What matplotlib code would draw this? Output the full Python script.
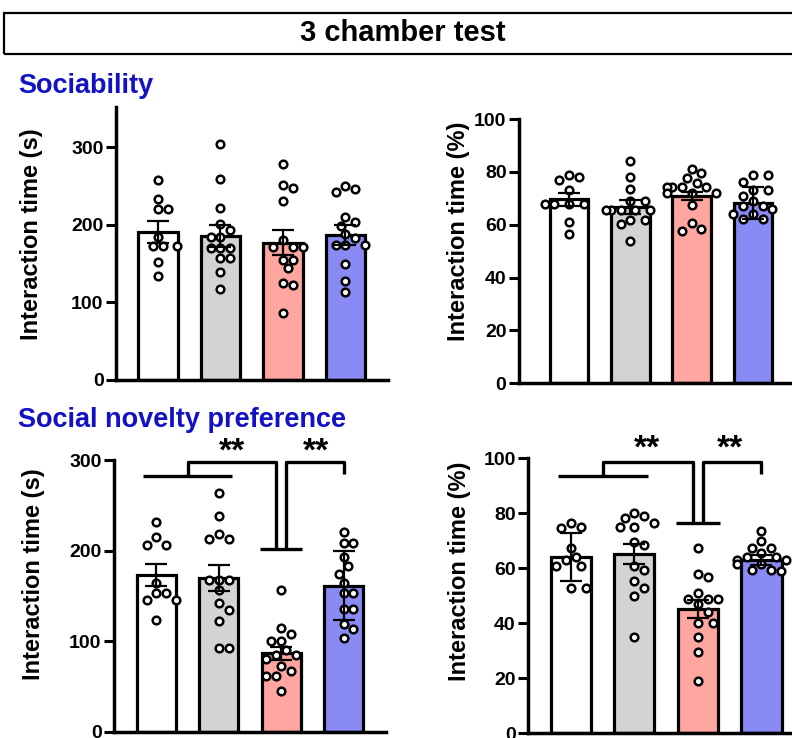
import numpy as np
import matplotlib
matplotlib.use("Agg")
import matplotlib.pyplot as plt
from matplotlib.patches import Rectangle

plt.rcParams['font.family'] = ['Liberation Sans', 'DejaVu Sans']
plt.rcParams['font.weight'] = 'bold'

# --- dados ---
colors = ['white', '#d3d3d3', '#ffa6a0', '#8a8af5']

# Sociability, tempo (s)
soc_time = [
    [258, 234, 220, 220, 185, 173, 173, 173, 152, 134],
    [304, 259, 222, 201, 194, 185, 185, 170, 170, 170, 157, 157, 139, 117],
    [279, 252, 247, 231, 180, 171, 171, 171, 155, 155, 144, 125, 122, 86],
    [250, 246, 243, 210, 204, 199, 188, 183, 174, 174, 174, 149, 128, 114],
]
soc_time_mean = [191, 186, 177, 187]
soc_time_err = [14, 14, 16, 13]

# Sociability, tempo (%)
soc_pct = [
    [79, 78.2, 76.9, 73.1, 68, 68, 68, 68, 61, 56.5],
    [84.2, 78.2, 73.4, 69.1, 69.1, 65.6, 65.6, 65.6, 65.6, 65.6, 61.6, 61.6, 60.2, 53.8],
    [81.2, 79.4, 77.7, 75.7, 74.1, 74.1, 74.1, 74.1, 71.9, 71.9, 71.9, 67.3, 60.5, 58.5, 57.5],
    [79, 79, 76, 73, 73, 71, 69, 67, 67, 66, 64, 64, 62, 62],
]
soc_pct_mean = [69.6, 66.8, 70.9, 68.3]
soc_pct_err = [2.5, 2.6, 1.6, 6.1]

# Social novelty, tempo (s)
nov_time = [
    [231, 215, 206, 206, 164, 153, 153, 145, 145, 123],
    [264, 238, 218, 213, 213, 167, 167, 167, 156, 142, 134, 122, 92, 92],
    [156, 115, 108, 100, 100, 90, 85, 85, 80, 72, 67, 62, 62, 45],
    [221, 208, 208, 193, 183, 174, 164, 153, 153, 135, 135, 119, 113, 104],
]
nov_time_mean = [173, 170, 86.5, 161]
nov_time_err = [12, 14.5, 7, 38]

# Social novelty, tempo (%)
nov_pct = [
    [76.6, 74.9, 74.5, 67.3, 64.2, 63, 61, 61, 53, 53],
    [80, 79.2, 78.4, 76.6, 74.9, 74.9, 69.5, 68.5, 61, 59.4, 55.5, 52.7, 50, 35.2],
    [67.3, 58, 57, 51, 49, 49, 49, 47, 44, 40, 40, 35, 29.5, 19.2],
    [73.6, 70, 67.5, 67.5, 65.5, 64, 64, 63, 63, 61.6, 61.6, 59.4, 59.4, 59],
]
nov_pct_mean = [64.2, 65.2, 45.3, 63]
nov_pct_err = [8.8, 3.6, 3.2, 1.8]

# niveis dos colchetes: [grupo 1+2, topo, grupo 3, grupo 4]
bracket_time = [282, 298, 202, 284]
bracket_pct = [93.6, 98.8, 76.6, 94.3]
stars = '**'

W, H = 792, 738
fig = plt.figure(figsize=(W / 100, H / 100), dpi=100)


def px_rect(l, t, r, b):
    return [l / W, 1 - b / H, (r - l) / W, (b - t) / H]


def swarm(ax, x0, vals, d=9.8):
    # beeswarm simples em coordenadas de pixel
    placed = []
    xs, ys = [], []
    for v in sorted(vals, reverse=True):
        px, py = ax.transData.transform((x0, v))
        for k in [0, 1, -1, 2, -2, 3, -3, 4, -4, 5, -5]:
            cx = px + k * d * 0.5
            if all((cx - a) ** 2 + (py - b) ** 2 >= d * d for a, b in placed):
                break
        placed.append((cx, py))
        xd, _ = ax.transData.inverted().transform((cx, py))
        xs.append(xd)
        ys.append(v)
    return xs, ys


def painel(rect, xlim, ylim, yticks, pts, means, errs, ylabel, lab_pos):
    ax = fig.add_axes(px_rect(*rect))
    ax.set_xlim(*xlim)
    ax.set_ylim(*ylim)
    x = np.arange(4)
    ax.bar(x, means, width=0.63, color=colors, edgecolor='black', linewidth=2.3, zorder=2)
    for i in range(4):
        xs, ys = swarm(ax, x[i], pts[i])
        ax.plot(xs, ys, 'o', ms=5.5, mfc='white', mec='black', mew=1.8, zorder=3, clip_on=False)
    ax.errorbar(x, means, yerr=errs, fmt='none', ecolor='black', elinewidth=1.6,
                capsize=8, capthick=1.6, zorder=4)
    for s in ['top', 'right']:
        ax.spines[s].set_visible(False)
    for s in ['left', 'bottom']:
        ax.spines[s].set_linewidth(2.5)
    ax.set_xticks([])
    ax.set_yticks(yticks)
    ax.tick_params(axis='y', length=7, width=2.2, pad=2, labelsize=14)
    ax.text(lab_pos[0], lab_pos[1], ylabel, rotation=90, transform=ax.transAxes,
            ha='center', va='center', fontsize=17, fontweight='bold')
    return ax


def colchetes(ax, lv, star_y, star_x):
    kw = dict(color='black', lw=2.4, clip_on=False, zorder=5, solid_capstyle='butt')
    ax.plot([-0.21, 1.21], [lv[0], lv[0]], **kw)
    ax.plot([0.5, 0.5, 1.92, 1.92], [lv[0], lv[1], lv[1], lv[2]], **kw)
    ax.plot([1.66, 2.34], [lv[2], lv[2]], **kw)
    ax.plot([2.08, 2.08, 3.0, 3.0], [lv[2], lv[1], lv[1], lv[3]], **kw)
    for sx in star_x:
        ax.text(sx, star_y, stars, ha='center', va='center', fontsize=24, fontweight='bold')


ax1 = painel((116, 107, 388, 380), (-0.67, 3.68), (0, 352), [0, 100, 200, 300],
             soc_time, soc_time_mean, soc_time_err, 'Interaction time (s)', (-0.31, 0.535))
ax2 = painel((519, 119, 792, 383.3), (-0.82, 3.64), (0, 100), [0, 20, 40, 60, 80, 100],
             soc_pct, soc_pct_mean, soc_pct_err, 'Interaction time (%)', (-0.222, 0.574))
ax3 = painel((114, 460, 386, 731.7), (-0.68, 3.68), (0, 300), [0, 100, 200, 300],
             nov_time, nov_time_mean, nov_time_err, 'Interaction time (s)', (-0.297, 0.579))
ax4 = painel((528.3, 458.3, 792, 733.3), (-0.67, 3.48), (0, 100), [0, 20, 40, 60, 80, 100],
             nov_pct, nov_pct_mean, nov_pct_err, 'Interaction time (%)', (-0.262, 0.588))

colchetes(ax3, bracket_time, 309, [1.21, 2.56])
colchetes(ax4, bracket_pct, 103.2, [1.2, 2.5])

# titulo com caixa
fig.add_artist(Rectangle((4 / W, 1 - 54 / H), 1.0, 41 / H, transform=fig.transFigure,
                         fill=False, lw=1.6, edgecolor='black', clip_on=False))
fig.text(403 / W, 1 - 33 / H, '3 chamber test', ha='center', va='center',
         fontsize=21, fontweight='bold')
fig.text(18 / W, 1 - 93 / H, 'Sociability', color='#1212c4', fontsize=19.5,
         fontweight='bold', va='baseline')
fig.text(18 / W, 1 - 427 / H, 'Social novelty preference', color='#1212c4', fontsize=19.5,
         fontweight='bold', va='baseline')

fig.savefig('out.png', dpi=100)
